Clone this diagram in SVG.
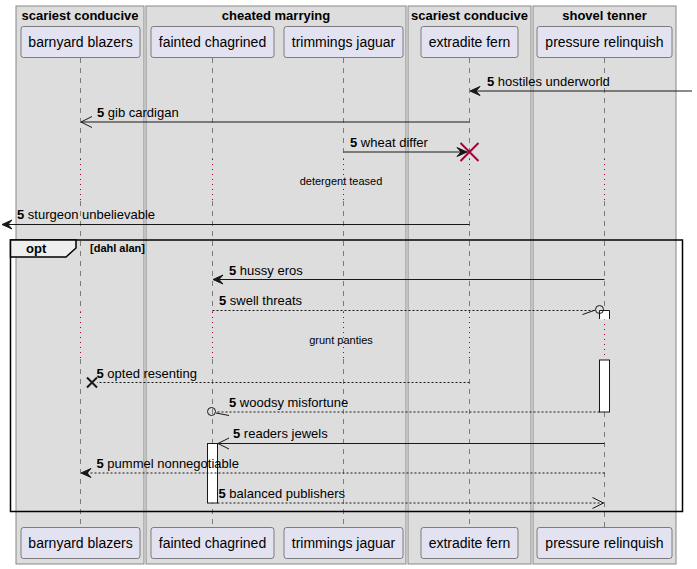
<svg xmlns="http://www.w3.org/2000/svg" width="697" height="569" viewBox="0 0 697 569">
<style>
.box{fill:#DDDDDD;stroke:#888888;stroke-width:1}
.bt{font-family:"Liberation Sans",Arial,sans-serif;font-size:13px;font-weight:bold;text-anchor:middle;fill:#000}
.p rect{fill:#E2E2F0;stroke:#181818;stroke-width:0.5}
.p text{font-family:"Liberation Sans",Arial,sans-serif;font-size:14px;text-anchor:middle;fill:#000}
.ll{stroke:#181818;stroke-width:0.5;stroke-dasharray:5,5;fill:none}
.dl{stroke:#A80036;stroke-width:1;stroke-dasharray:1,4;fill:none}
.m{stroke:#181818;stroke-width:1;fill:none}
.d{stroke:#181818;stroke-width:1;stroke-dasharray:2,2;fill:none}
.fh{fill:#181818;stroke:#181818;stroke-width:1}
.oh{fill:none;stroke:#181818;stroke-width:1}
.t{font-family:"Liberation Sans",Arial,sans-serif;font-size:13px;fill:#000}
.n{font-weight:bold}
.s{font-family:"Liberation Sans",Arial,sans-serif;font-size:11px;fill:#000}
.act{fill:#FFFFFF;stroke:#181818;stroke-width:1}
</style>
<rect width="697" height="569" fill="#FFFFFF"/>
<g id="box-1"><rect class="box" x="16" y="6" width="128" height="558"/><text class="bt" x="80" y="20">scariest conducive</text></g>
<g id="box-2"><rect class="box" x="146" y="6" width="260" height="558"/><text class="bt" x="276" y="20">cheated marrying</text></g>
<g id="box-3"><rect class="box" x="408" y="6" width="123" height="558"/><text class="bt" x="469.5" y="20">scariest conducive</text></g>
<g id="box-4"><rect class="box" x="533" y="6" width="143" height="558"/><text class="bt" x="604.5" y="20">shovel tenner</text></g>

<g id="lifelines">
<path class="ll" d="M80.5,58V159M80.5,201V312M80.5,359V527"/>
<path class="dl" d="M80.5,159V201M80.5,312V359"/>
<path class="ll" d="M212.5,58V159M212.5,201V312M212.5,359V527"/>
<path class="dl" d="M212.5,159V201M212.5,312V359"/>
<path class="ll" d="M343.5,58V159M343.5,201V312M343.5,359V527"/>
<path class="dl" d="M343.5,159V201M343.5,312V359"/>
<path class="ll" d="M469.5,58V159M469.5,201V312M469.5,359V527"/>
<path class="dl" d="M469.5,159V201M469.5,312V359"/>
<path class="ll" d="M604.5,58V159M604.5,201V310M604.5,412V527"/>
<path class="dl" d="M604.5,159V201M604.5,319V359"/>
</g>

<g id="barnyard-blazers" class="p"><rect x="21" y="26.5" width="119" height="31" rx="2.5"/><text x="80.5" y="47">barnyard blazers</text><rect x="21" y="527.5" width="119" height="31" rx="2.5"/><text x="80.5" y="548">barnyard blazers</text></g>
<g id="fainted-chagrined" class="p"><rect x="151" y="26.5" width="123" height="31" rx="2.5"/><text x="212.5" y="47">fainted chagrined</text><rect x="151" y="527.5" width="123" height="31" rx="2.5"/><text x="212.5" y="548">fainted chagrined</text></g>
<g id="trimmings-jaguar" class="p"><rect x="284" y="26.5" width="119" height="31" rx="2.5"/><text x="343.5" y="47">trimmings jaguar</text><rect x="284" y="527.5" width="119" height="31" rx="2.5"/><text x="343.5" y="548">trimmings jaguar</text></g>
<g id="extradite-fern" class="p"><rect x="421" y="26.5" width="97" height="31" rx="2.5"/><text x="469.5" y="47">extradite fern</text><rect x="421" y="527.5" width="97" height="31" rx="2.5"/><text x="469.5" y="548">extradite fern</text></g>
<g id="pressure-relinquish" class="p"><rect x="537" y="26.5" width="135" height="31" rx="2.5"/><text x="604.5" y="47">pressure relinquish</text><rect x="537" y="527.5" width="135" height="31" rx="2.5"/><text x="604.5" y="548">pressure relinquish</text></g>

<g id="opt-frame">
<rect x="10.5" y="240" width="672" height="271.5" fill="none" stroke="#000" stroke-width="1.5"/>
<polygon points="10.5,240 76,240 76,248 66,257 10.5,257" fill="#EEEEEE" stroke="#000" stroke-width="1.5"/>
<text class="t n" x="26" y="253">opt</text>
<text class="s n" x="90" y="252">[dahl alan]</text>
</g>

<g id="activations">
<path class="act" d="M599.5,319V310.5H609.5V319"/>
<path d="M600,319H609" stroke="#FFFFFF" stroke-width="1"/>
<rect class="act" x="599.5" y="360" width="10" height="52"/>
<rect class="act" x="207.5" y="443.5" width="10" height="59.5"/>
</g>

<g id="connectors">
<line class="m" x1="692" y1="91" x2="471" y2="91"/>
<polygon class="fh" points="480,86.5 470,91 480,95.5 476,91"/>
<text class="t" x="487" y="86"><tspan class="n">5</tspan> hostiles underworld</text>

<line class="m" x1="469.5" y1="122" x2="81" y2="122"/>
<polyline class="oh" points="92,116.5 81,122 92,127.5"/>
<text class="t" x="97" y="117"><tspan class="n">5</tspan> gib cardigan</text>

<line class="m" x1="343.5" y1="152" x2="468" y2="152"/>
<polygon class="fh" points="457,147.5 467,152 457,156.5 461,152"/>
<path d="M460.5,143L478.5,161M478.5,143L460.5,161" stroke="#A80036" stroke-width="2"/>
<text class="t" x="350" y="147"><tspan class="n">5</tspan> wheat differ</text>

<text class="s" x="341" y="185" text-anchor="middle">detergent teased</text>

<line class="m" x1="469.5" y1="224.5" x2="3" y2="224.5"/>
<polygon class="fh" points="12,220 2,224.5 12,229 8,224.5"/>
<text class="t" x="17" y="219"><tspan class="n">5</tspan> sturgeon unbelievable</text>

<line class="m" x1="604.5" y1="279.5" x2="214" y2="279.5"/>
<polygon class="fh" points="223,275 213,279.5 223,284 219,279.5"/>
<text class="t" x="229" y="275"><tspan class="n">5</tspan> hussy eros</text>

<line class="d" x1="212.5" y1="310.5" x2="595.5" y2="310.5"/>
<circle cx="599.5" cy="309.5" r="4" fill="none" stroke="#181818" stroke-width="1"/>
<line class="m" x1="582.5" y1="314.5" x2="595.5" y2="310"/>
<text class="t" x="219" y="305"><tspan class="n">5</tspan> swell threats</text>

<text class="s" x="341" y="344" text-anchor="middle">grunt panties</text>

<line class="d" x1="469.5" y1="382.5" x2="97" y2="382.5"/>
<path d="M87,377.5L97,387.5M97,377.5L87,387.5" stroke="#181818" stroke-width="2"/>
<text class="t" x="96.5" y="378"><tspan class="n">5</tspan> opted resenting</text>

<line class="d" x1="599.5" y1="412" x2="215.5" y2="412"/>
<circle cx="211.5" cy="411.5" r="4" fill="none" stroke="#181818" stroke-width="1"/>
<line class="m" x1="216" y1="413" x2="229" y2="415.5"/>
<text class="t" x="229" y="407"><tspan class="n">5</tspan> woodsy misfortune</text>

<line class="m" x1="604.5" y1="443.5" x2="218" y2="443.5"/>
<polyline class="oh" points="229,438 218,443.5 229,449"/>
<text class="t" x="233" y="438"><tspan class="n">5</tspan> readers jewels</text>

<line class="d" x1="604.5" y1="473" x2="82" y2="473"/>
<polygon class="fh" points="91,468.5 81,473 91,477.5 87,473"/>
<text class="t" x="96.5" y="468"><tspan class="n">5</tspan> pummel nonnegotiable</text>

<line class="d" x1="217.5" y1="503" x2="603.5" y2="503"/>
<polyline class="oh" points="592.5,497.5 603.5,503 592.5,508.5"/>
<text class="t" x="218.5" y="498"><tspan class="n">5</tspan> balanced publishers</text>
</g>
</svg>
